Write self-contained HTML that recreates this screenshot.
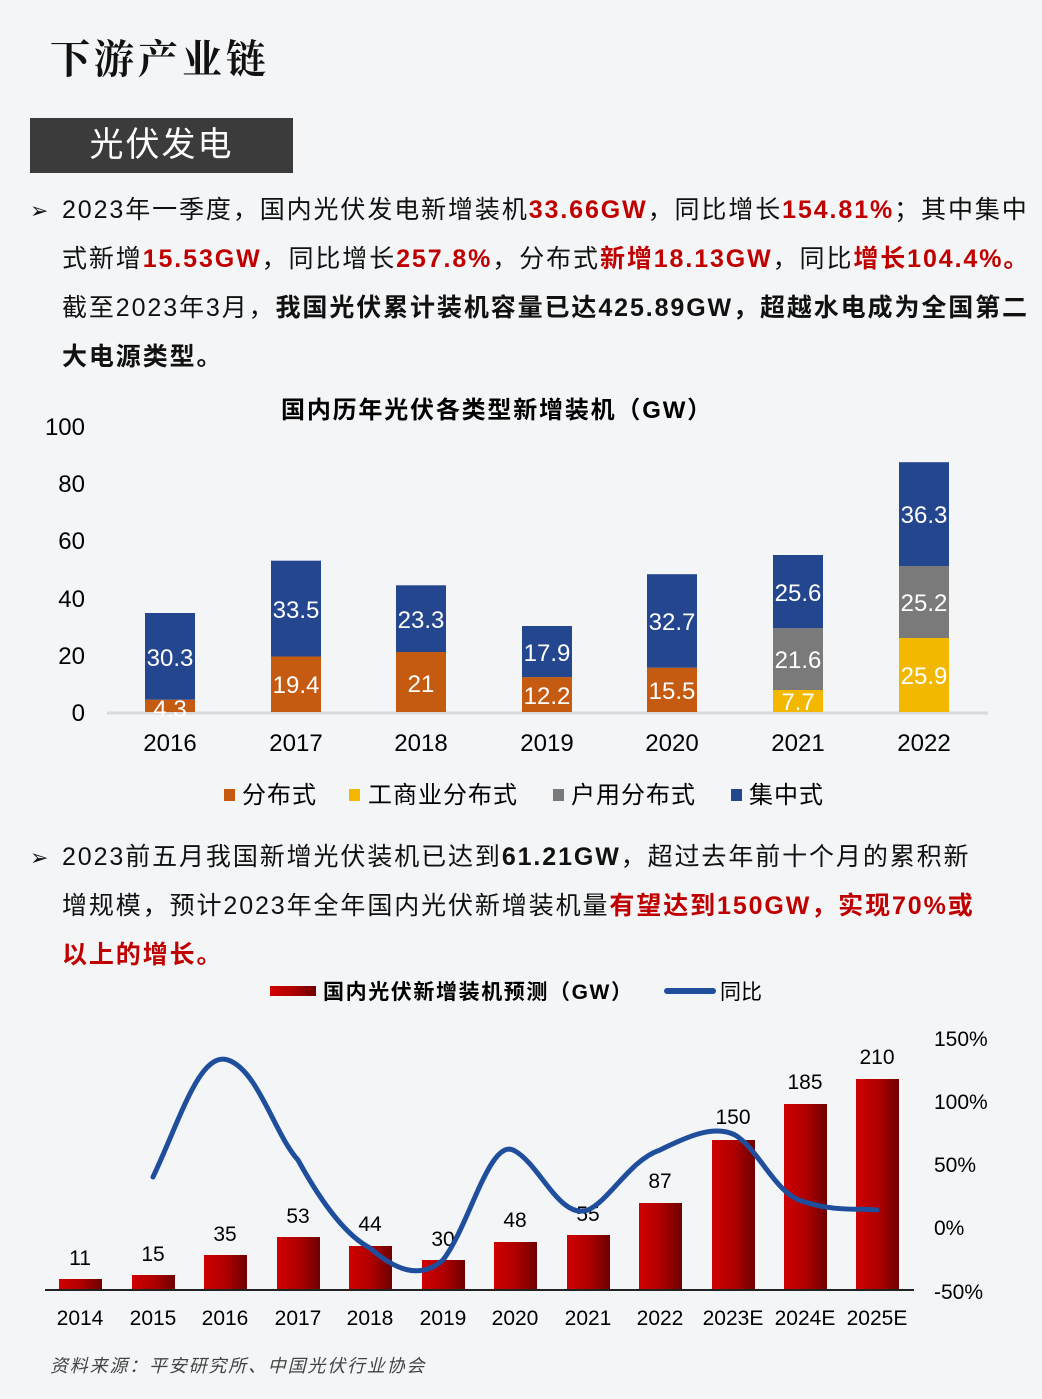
<!DOCTYPE html>
<html><head><meta charset="utf-8"><style>
body{margin:0;width:1042px;height:1399px;background:#f3f5f7;position:relative;overflow:hidden;font-family:"Liberation Sans","Noto Sans CJK SC",sans-serif;color:#111}
.a{position:absolute;white-space:nowrap}
.r{color:#c00000;font-weight:bold}
.b{font-weight:bold}
.p{font-size:25px;line-height:49px;left:62px;letter-spacing:1.9px}
</style></head><body>
<div class="a" style="left:50px;top:28px;font-size:40px;font-weight:bold;letter-spacing:4px;font-family:'Noto Serif CJK SC',serif">下游产业链</div>
<div class="a" style="left:30px;top:118px;width:263px;height:55px;background:#3b3b3b;color:#fff;font-size:34px;line-height:55px;text-align:center;letter-spacing:2px">光伏发电</div>
<div class="a" style="left:30px;top:186px;font-size:22px;line-height:49px">➢</div>
<div class="a p" style="top:186px">2023年一季度，国内光伏发电新增装机<span class="r">33.66GW</span>，同比增长<span class="r">154.81%</span>；其中集中</div>
<div class="a p" style="top:235px">式新增<span class="r">15.53GW</span>，同比增长<span class="r">257.8%</span>，分布式<span class="r">新增18.13GW</span>，同比<span class="r">增长104.4%。</span></div>
<div class="a p" style="top:284px">截至2023年3月，<span class="b">我国光伏累计装机容量已达425.89GW，超越水电成为全国第二</span></div>
<div class="a p b" style="top:333px">大电源类型。</div>

<svg class="a" style="left:0;top:390px" width="1042" height="430" font-family="Liberation Sans, Noto Sans CJK SC, sans-serif">
<text x="497" y="28" font-size="24" font-weight="bold" text-anchor="middle" letter-spacing="1.8">国内历年光伏各类型新增装机（GW）</text>
<g font-size="24" text-anchor="end">
<text x="85" y="45">100</text><text x="85" y="102">80</text><text x="85" y="159">60</text><text x="85" y="217">40</text><text x="85" y="274">20</text><text x="85" y="331">0</text></g>
<line x1="107" y1="323" x2="988" y2="323" stroke="#d9d9d9" stroke-width="3"/>
<g>
<rect x="145" y="309.7" width="50" height="12.3" fill="#c55a11"/><rect x="145" y="223" width="50" height="86.7" fill="#24468f"/>
<rect x="271" y="266.5" width="50" height="55.5" fill="#c55a11"/><rect x="271" y="170.7" width="50" height="95.8" fill="#24468f"/>
<rect x="396" y="262" width="50" height="60" fill="#c55a11"/><rect x="396" y="195.3" width="50" height="66.7" fill="#24468f"/>
<rect x="522" y="287.1" width="50" height="34.9" fill="#c55a11"/><rect x="522" y="236" width="50" height="51.1" fill="#24468f"/>
<rect x="647" y="277.7" width="50" height="44.3" fill="#c55a11"/><rect x="647" y="184.2" width="50" height="93.5" fill="#24468f"/>
<rect x="773" y="300" width="50" height="22" fill="#f2b800"/><rect x="773" y="238.2" width="50" height="61.8" fill="#7a7a7a"/><rect x="773" y="165" width="50" height="73.2" fill="#24468f"/>
<rect x="899" y="248" width="50" height="74" fill="#f2b800"/><rect x="899" y="176" width="50" height="72" fill="#7a7a7a"/><rect x="899" y="72.2" width="50" height="103.8" fill="#24468f"/>
</g>
<g font-size="24" fill="#fff" text-anchor="middle">
<text x="170" y="327">4.3</text><text x="170" y="276">30.3</text>
<text x="296" y="303">19.4</text><text x="296" y="228">33.5</text>
<text x="421" y="302">21</text><text x="421" y="238">23.3</text>
<text x="547" y="314">12.2</text><text x="547" y="271">17.9</text>
<text x="672" y="309">15.5</text><text x="672" y="240">32.7</text>
<text x="798" y="320">7.7</text><text x="798" y="278">21.6</text><text x="798" y="211">25.6</text>
<text x="924" y="294">25.9</text><text x="924" y="221">25.2</text><text x="924" y="133">36.3</text></g>
<g font-size="24" text-anchor="middle">
<text x="170" y="361">2016</text><text x="296" y="361">2017</text><text x="421" y="361">2018</text><text x="547" y="361">2019</text><text x="672" y="361">2020</text><text x="798" y="361">2021</text><text x="924" y="361">2022</text></g>
<g font-size="24" letter-spacing="1">
<rect x="224" y="399" width="11" height="12" fill="#c55a11"/><text x="242" y="413">分布式</text>
<rect x="349" y="399" width="11" height="12" fill="#f2b800"/><text x="368" y="413">工商业分布式</text>
<rect x="553" y="399" width="11" height="12" fill="#7a7a7a"/><text x="571" y="413">户用分布式</text>
<rect x="731" y="399" width="11" height="12" fill="#24468f"/><text x="749" y="413">集中式</text></g>
</svg>

<div class="a" style="left:30px;top:833px;font-size:22px;line-height:49px">➢</div>
<div class="a p" style="top:833px">2023前五月我国新增光伏装机已达到<span class="b">61.21GW</span>，超过去年前十个月的累积新</div>
<div class="a p" style="top:882px">增规模，预计2023年全年国内光伏新增装机量<span class="r">有望达到150GW，实现70%或</span></div>
<div class="a p r" style="top:931px">以上的增长。</div>

<svg class="a" style="left:0;top:970px" width="1042" height="429" font-family="Liberation Sans, Noto Sans CJK SC, sans-serif">
<defs><linearGradient id="g" x1="0" x2="1"><stop offset="0" stop-color="#d00000"/><stop offset="0.5" stop-color="#b00000"/><stop offset="1" stop-color="#6e0000"/></linearGradient></defs>
<rect x="270" y="16" width="46" height="10" fill="url(#g)"/><text x="323" y="29" font-size="21" font-weight="bold" letter-spacing="1.6">国内光伏新增装机预测（GW）</text>
<line x1="667" y1="21" x2="713" y2="21" stroke="#1f4e9c" stroke-width="6" stroke-linecap="round"/><text x="720" y="29" font-size="21">同比</text>
<g fill="url(#g)">
<rect x="59" y="309" width="43" height="11"/><rect x="132" y="305" width="43" height="15"/><rect x="204" y="285" width="43" height="35"/>
<rect x="277" y="267" width="43" height="53"/><rect x="349" y="276" width="43" height="44"/><rect x="422" y="290" width="43" height="30"/>
<rect x="494" y="272" width="43" height="48"/><rect x="567" y="265" width="43" height="55"/><rect x="639" y="233" width="43" height="87"/>
<rect x="712" y="170" width="43" height="150"/><rect x="784" y="134" width="43" height="186"/><rect x="856" y="109" width="43" height="211"/></g>
<line x1="45" y1="320" x2="914" y2="320" stroke="#222" stroke-width="2"/>
<g font-size="21" text-anchor="middle">
<text x="80" y="295">11</text><text x="153" y="291">15</text><text x="225" y="271">35</text><text x="298" y="253">53</text><text x="370" y="261">44</text><text x="443" y="276">30</text><text x="515" y="257">48</text><text x="588" y="251">55</text><text x="660" y="218">87</text><text x="733" y="154">150</text><text x="805" y="119">185</text><text x="877" y="94">210</text></g>
<path d="M153,207 C180,150 200,80 228,90 C258,100 275,165 298,190 C320,230 345,265 370,278 C395,300 420,310 443,290 C470,255 490,165 515,181 C540,195 560,250 588,240 C610,230 630,190 660,180 C690,165 715,155 735,165 C760,180 775,225 805,232 C835,242 860,238 877,240" fill="none" stroke="#1f4e9c" stroke-width="5" stroke-linecap="round"/>
<g font-size="21" text-anchor="middle">
<text x="80" y="355">2014</text><text x="153" y="355">2015</text><text x="225" y="355">2016</text><text x="298" y="355">2017</text><text x="370" y="355">2018</text><text x="443" y="355">2019</text><text x="515" y="355">2020</text><text x="588" y="355">2021</text><text x="660" y="355">2022</text><text x="733" y="355">2023E</text><text x="805" y="355">2024E</text><text x="877" y="355">2025E</text></g>
<g font-size="21">
<text x="934" y="76">150%</text><text x="934" y="139">100%</text><text x="934" y="202">50%</text><text x="934" y="265">0%</text><text x="934" y="329">-50%</text></g>
<text x="50" y="402" font-size="18" font-style="italic" fill="#444" letter-spacing="1.8">资料来源：平安研究所、中国光伏行业协会</text>
</svg>
</body></html>
